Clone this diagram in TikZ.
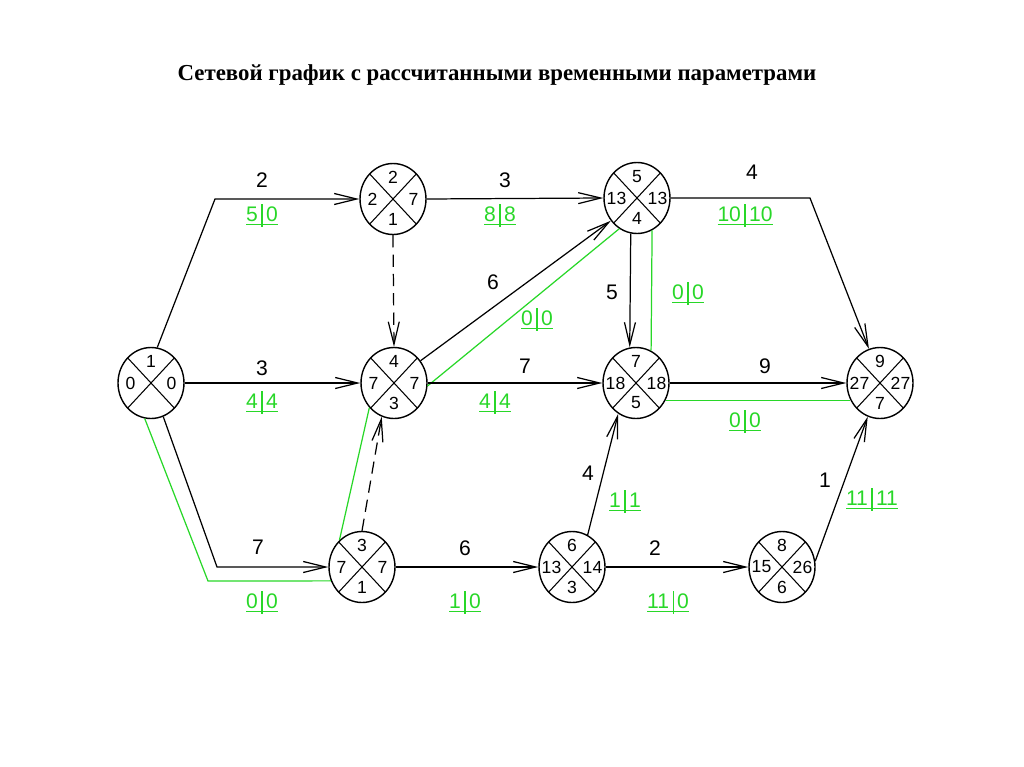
\documentclass[tikz,border=0pt]{standalone}
\usepackage{fontspec}
\setmainfont{Liberation Serif}
\newfontfamily\cadfont{Liberation Sans}
\usetikzlibrary{arrows.meta,shapes.geometric}
\definecolor{critgreen}{RGB}{40,215,40}
\newcommand\evnode[6]{%
\node[ev] (#1) at (#2) {};
\node[num] at ([yshift=0.43cm]#1.center) {#3};
\node[num] at ([xshift=-0.41cm]#1.center) {#4};
\node[num] at ([xshift=0.41cm]#1.center) {#5};
\node[num] at ([yshift=-0.40cm]#1.center) {#6};}
\newcommand\glab[2]{\underline{#1\,\smash{\rule[-3pt]{0.6pt}{13pt}}\,#2}}
\begin{document}
\begin{tikzpicture}[x=0.02cm,y=-0.02cm,
ev/.style={ellipse, draw, line width=0.8pt, minimum width=1.32cm, minimum height=1.42cm, inner sep=0pt, fill=white,
 path picture={\draw[line width=0.6pt] (path picture bounding box.north west) -- (path picture bounding box.south east) (path picture bounding box.north east) -- (path picture bounding box.south west);}},
num/.style={font=\cadfont\normalsize, inner sep=0pt},
dur/.style={font=\cadfont\large, inner sep=0pt},
res/.style={font=\cadfont\large, text=critgreen, inner sep=0pt},
arr/.style={line width=0.7pt, -{Straight Barb[length=4.5mm,width=2.2mm]}},
crit/.style={critgreen, line width=0.7pt}]
\useasboundingbox (0,0) rectangle (1024,767);
\node[font=\bfseries\fontsize{13}{15}\selectfont] (title) at (497,75) {Сетевой график с рассчитанными временными параметрами};
\evnode{e1}{151,383}{1}{0}{0}{}
\evnode{e2}{393,199}{2}{2}{7}{1}
\evnode{e4}{394,383}{4}{7}{7}{3}
\evnode{e5}{637,198}{5}{13}{13}{4}
\evnode{e7}{636,383}{7}{18}{18}{5}
\evnode{e9}{880,383}{9}{27}{27}{7}
\evnode{e3}{362,567}{3}{7}{7}{1}
\evnode{e6}{572,567}{6}{13}{14}{3}
\evnode{e8}{782,567}{8}{15}{26}{6}
\coordinate (b12) at (215,199);
\coordinate (b13) at (217,567);
\coordinate (g13) at (208,581);
\coordinate (b59) at (810,198);
\draw[crit] (e1.-100) -- (g13) -- (e3.204);
\draw[crit] (e3.130) -- (e4.225);
\draw[crit] (e4.-5) -- (e5.240);
\draw[crit] (e5.-65) -- (e7.65);
\draw[crit] (e7.-30) -- (e9.210);
\draw[arr] (e1.80) -- (b12) -- (e2.west);
\draw[arr] (e1.east) -- (e4.west);
\draw[arr] (e1.-70) -- (b13) -- (e3.west);
\draw[arr] (e2.east) -- (e5.west);
\draw[arr, dash pattern=on 7pt off 4pt] (e2.south) -- (e4.north);
\draw[arr, dash pattern=on 7pt off 4pt] (e3.north) -- (e4.-110);
\draw[arr] (e4.40) -- (e5.221);
\draw[arr] (e4.east) -- (e7.west);
\draw[arr] (e5.260) -- (e7.100);
\draw[arr] (e5.east) -- (b59) -- (e9.108);
\draw[arr] (e7.east) -- (e9.west);
\draw[arr] (e3.east) -- (e6.west);
\draw[arr] (e6.64) -- (e7.240);
\draw[arr] (e6.east) -- (e8.west);
\draw[arr] (e8.10) -- (e9.250);
\node[dur] (d12) at (262,180) {2};
\node[res] (r12) at (262,216) {\glab{5}{0}};
\node[dur] (d14) at (262,368) {3};
\node[res] (r14) at (262,403) {\glab{4}{4}};
\node[dur] (d13) at (258,547) {7};
\node[res] (r13) at (262,603) {\glab{0}{0}};
\node[dur] (d25) at (505,180) {3};
\node[res] (r25) at (500,216) {\glab{8}{8}};
\node[dur] (d59) at (752,172) {4};
\node[res] (r59) at (745,216) {\glab{10}{10}};
\node[dur] (d45) at (493,282) {6};
\node[res] (r45) at (537,320) {\glab{0}{0}};
\node[dur] (d47) at (525,366) {7};
\node[res] (r47) at (495,403) {\glab{4}{4}};
\node[dur] (d57) at (612,292) {5};
\node[res] (r57) at (688,294) {\glab{0}{0}};
\node[dur] (d79) at (765,366) {9};
\node[res] (r79) at (745,422) {\glab{0}{0}};
\node[dur] (d36) at (465,548) {6};
\node[res] (r36) at (465,603) {\glab{1}{0}};
\node[dur] (d67) at (588,473) {4};
\node[res] (r67) at (625,502) {\glab{1}{1}};
\node[dur] (d68) at (655,548) {2};
\node[res] (r68) at (668,603) {\glab{11}{0}};
\node[dur] (d89) at (825,480) {1};
\node[res] (r89) at (872,500) {\glab{11}{11}};
\end{tikzpicture}
\end{document}
